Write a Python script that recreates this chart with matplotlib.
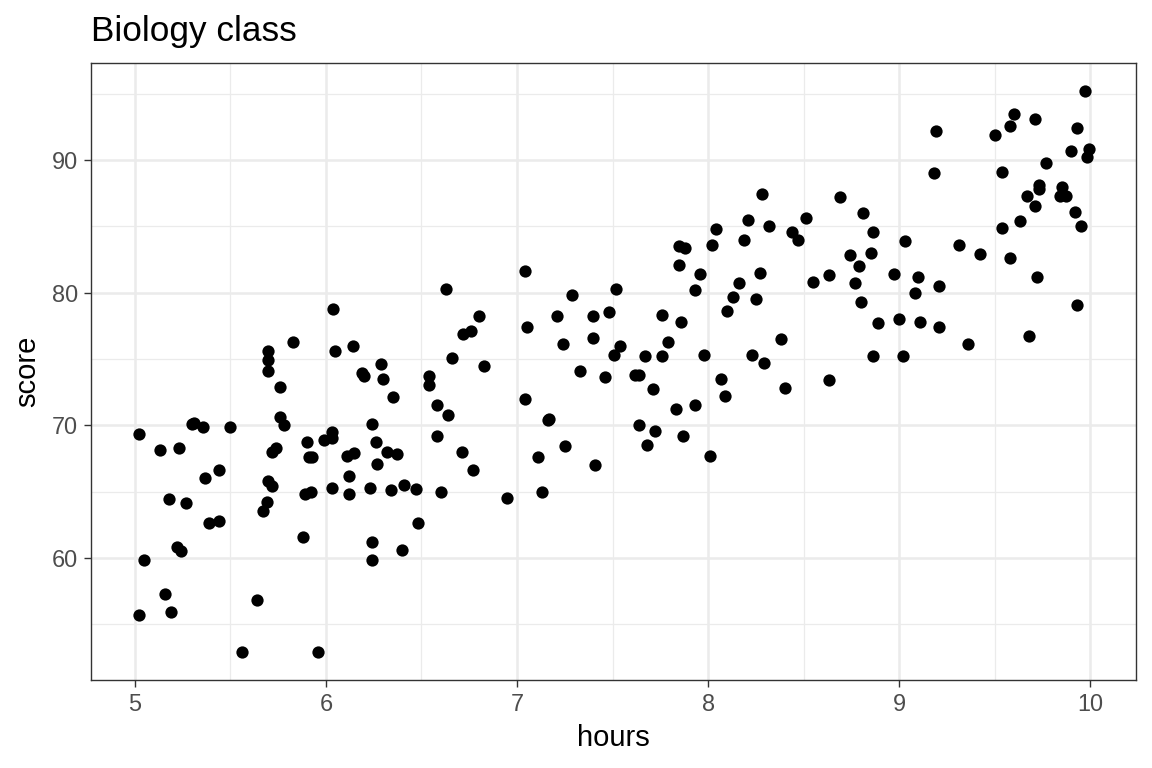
import numpy as np
import matplotlib
matplotlib.use("Agg")
import matplotlib.pyplot as plt
from matplotlib.ticker import MultipleLocator

plt.rcParams["font.family"] = ["Liberation Sans", "DejaVu Sans"]

# values (hours studied vs. score)
hours = [
    5.02, 5.02, 5.05, 5.13, 5.16, 5.18, 5.19, 5.22, 5.24, 5.23, 5.27, 5.30, 5.31,
    5.36, 5.37, 5.39, 5.44, 5.44, 5.50,
    5.56, 5.64, 5.67, 5.69, 5.70, 5.70, 5.70, 5.83, 5.76, 5.76, 5.78, 5.70, 5.72,
    5.72, 5.74, 5.88, 5.89, 5.92, 5.90, 5.91, 5.93, 5.96, 5.99,
    6.03, 6.03, 6.04, 6.05, 6.03, 6.14, 6.11, 6.15, 6.12, 6.12, 6.19, 6.20, 6.24,
    6.26, 6.29, 6.30, 6.35, 6.32, 6.37, 6.27, 6.23, 6.34, 6.41, 6.47, 6.48, 6.24,
    6.24, 6.40, 6.54, 6.54, 6.58, 6.58, 6.60,
    6.63, 6.80, 6.72, 6.76, 6.66, 6.83, 6.64, 6.71, 6.77, 6.95,
    7.04, 7.05, 7.04, 7.17, 7.16, 7.11, 7.13, 7.25, 7.29, 7.21, 7.24, 7.40, 7.40,
    7.48, 7.33, 7.46, 7.41,
    7.52, 7.54, 7.51, 7.67, 7.62, 7.64, 7.71, 7.64, 7.72, 7.68, 7.76, 7.79, 7.76,
    7.86, 7.85, 7.88, 7.85, 7.96, 7.93, 7.98, 7.83, 7.93, 7.87,
    8.02, 8.04, 8.01, 8.19, 8.21, 8.28, 8.32, 8.16, 8.27, 8.13, 8.25, 8.10, 8.07,
    8.09, 8.23, 8.29, 8.38, 8.40, 8.44, 8.47,
    8.51, 8.69, 8.81, 8.86, 8.74, 8.85, 8.79, 8.63, 8.55, 8.77, 8.80, 8.89, 8.86,
    8.63, 8.97,
    9.03, 9.31, 9.42, 9.19, 9.18, 9.10, 9.08, 9.21, 9.00, 9.11, 9.21, 9.36, 9.02,
    9.97, 9.60, 9.58, 9.71, 9.50, 9.93, 9.54, 9.90, 9.99, 9.98, 9.77, 9.73, 9.73,
    9.85, 9.84, 9.87, 9.67, 9.71, 9.92, 9.95, 9.63, 9.54, 9.58, 9.72, 9.93, 9.68,
]
score = [
    69.3, 55.7, 59.8, 68.1, 57.3, 64.4, 55.9, 60.8, 60.5, 68.3, 64.1, 70.1, 70.2,
    69.9, 66.0, 62.6, 62.8, 66.6, 69.9,
    52.9, 56.8, 63.5, 64.2, 75.6, 74.9, 74.1, 76.3, 72.9, 70.6, 70.0, 65.8, 65.4,
    68.0, 68.3, 61.6, 64.8, 65.0, 68.7, 67.6, 67.6, 52.9, 68.9,
    69.0, 69.5, 78.8, 75.6, 65.3, 76.0, 67.7, 67.9, 66.2, 64.8, 73.9, 73.7, 70.1,
    68.7, 74.6, 73.5, 72.1, 68.0, 67.8, 67.1, 65.3, 65.1, 65.5, 65.2, 62.6, 61.2,
    59.8, 60.6, 73.7, 73.0, 71.5, 69.2, 65.0,
    80.3, 78.2, 76.9, 77.1, 75.1, 74.5, 70.8, 68.0, 66.6, 64.5,
    81.6, 77.4, 72.0, 70.5, 70.4, 67.6, 65.0, 68.4, 79.8, 78.2, 76.1, 78.2, 76.6,
    78.5, 74.1, 73.6, 67.0,
    80.3, 76.0, 75.3, 75.2, 73.8, 73.8, 72.7, 70.0, 69.6, 68.5, 78.3, 76.3, 75.2,
    77.8, 83.5, 83.4, 82.1, 81.4, 80.2, 75.3, 71.2, 71.5, 69.2,
    83.6, 84.8, 67.7, 84.0, 85.5, 87.4, 85.0, 80.7, 81.5, 79.7, 79.5, 78.6, 73.5,
    72.2, 75.3, 74.7, 76.5, 72.8, 84.6, 84.0,
    85.6, 87.2, 86.0, 84.6, 82.8, 83.0, 82.0, 81.3, 80.8, 80.7, 79.3, 77.7, 75.2,
    73.4, 81.4,
    83.9, 83.6, 82.9, 92.2, 89.0, 81.2, 80.0, 80.5, 78.0, 77.8, 77.4, 76.1, 75.2,
    95.2, 93.5, 92.6, 93.1, 91.9, 92.4, 89.1, 90.7, 90.8, 90.2, 89.8, 88.1, 87.8,
    88.0, 87.3, 87.3, 87.3, 86.5, 86.1, 85.0, 85.4, 84.9, 82.6, 81.2, 79.1, 76.7,
]

x = np.array(hours)
y = np.array(score)

fig = plt.figure(figsize=(11.52, 7.68), dpi=100)
ax = fig.add_axes([91 / 1152, 1 - 680 / 768, (1136 - 91) / 1152, (680 - 63) / 768])

ax.scatter(x, y, s=78, color="black", linewidths=0, zorder=3)

# ggplot style 5% expansion
xpad = 0.05 * (x.max() - x.min())
ypad = 0.05 * (y.max() - y.min())
ax.set_xlim(x.min() - xpad, x.max() + xpad)
ax.set_ylim(y.min() - ypad, y.max() + ypad)

ax.xaxis.set_major_locator(MultipleLocator(1))
ax.xaxis.set_minor_locator(MultipleLocator(0.5))
ax.yaxis.set_major_locator(MultipleLocator(10))
ax.yaxis.set_minor_locator(MultipleLocator(5))

ax.grid(True, which="major", color="#EBEBEB", linewidth=1.8, zorder=0)
ax.grid(True, which="minor", color="#EBEBEB", linewidth=0.9, zorder=0)
ax.set_axisbelow(True)

for sp in ax.spines.values():
    sp.set_color("#333333")
    sp.set_linewidth(1.0)

ax.tick_params(which="major", length=5.3, width=1.0, color="#333333",
               labelsize=16.9, labelcolor="#4D4D4D", pad=4)
ax.tick_params(which="minor", length=0)

ax.set_xlabel("hours", fontsize=21, labelpad=6)
ax.set_ylabel("score", fontsize=21, labelpad=8)
ax.set_title("Biology class", loc="left", fontsize=25.3, pad=16)

fig.savefig("out.png", dpi=100)
